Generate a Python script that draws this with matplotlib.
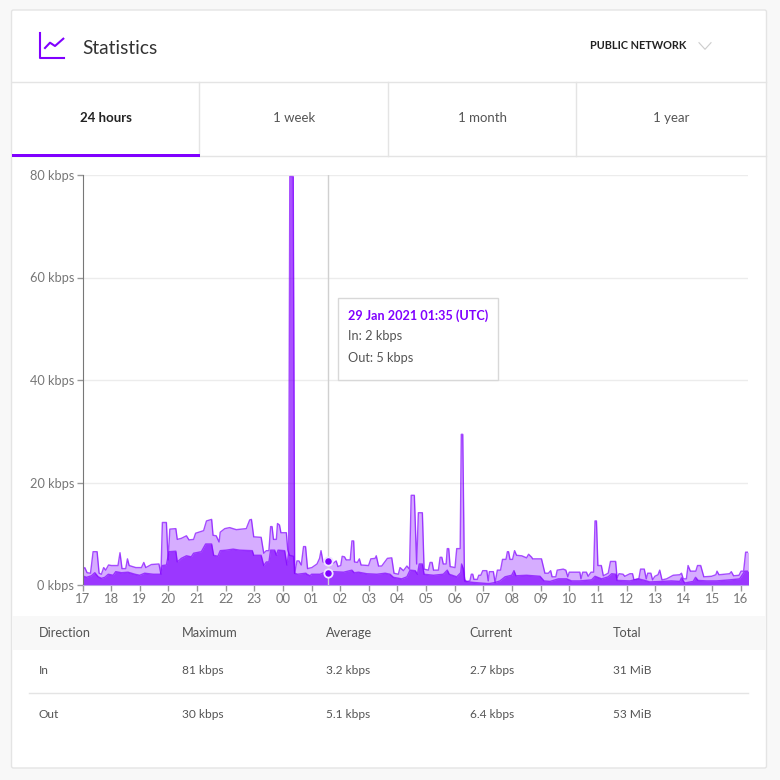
import matplotlib
matplotlib.use("Agg")
import matplotlib.pyplot as plt
from matplotlib.patches import Rectangle, FancyBboxPatch

plt.rcParams['font.family'] = ['Lato', 'DejaVu Sans']

# hours since 17:00
out_hours = [0, .08, .16, .28, .37, .51, .58, .66, .74, .81, .91, 1.01, 1.24, 1.31, 1.38, 1.51, 1.57, 1.63, 1.86, 2.06,
             2.14, 2.21, 2.41, 2.67, 2.74, 2.79, 2.93, 2.99, 3.05, 3.26, 3.31, 3.45, 3.63, 3.72, 3.88, 3.95, 4.23, 4.33, 4.51, 4.56,
             4.67, 4.77, 4.81, 4.97, 5.14, 5.37, 5.72, 5.84, 5.9, 5.98, 6.24, 6.33, 6.42, 6.51, 6.57, 6.62, 6.67, 6.77, 6.81, 6.88,
             6.93, 7.12, 7.17, 7.23, 7.37, 7.41, 7.49, 7.56, 7.64, 7.72, 7.79, 7.86, 8.01, 8.19, 8.28, 8.33, 8.40, 8.51, 8.77, 8.86,
             8.92, 9.02, 9.07, 9.15, 9.21, 9.35, 9.41, 9.47, 9.5, 9.6, 9.67, 9.73, 9.99, 10.07, 10.22, 10.26, 10.34, 10.45, 10.65, 10.8,
             10.88, 11.03, 11.09, 11.21, 11.33, 11.42, 11.48, 11.59, 11.67, 11.73, 11.87, 11.93, 12.08, 12.14, 12.21, 12.26, 12.43, 12.49, 12.55, 12.6,
             12.7, 12.74, 12.79, 12.84, 13.01, 13.07, 13.19, 13.23, 13.28, 13.34, 13.42, 13.53, 13.58, 13.63, 13.67, 13.79, 13.84, 13.91, 13.98, 14.12,
             14.17, 14.21, 14.35, 14.41, 14.49, 14.6, 14.67, 14.79, 14.84, 14.88, 14.93, 15.02, 15.09, 15.16, 15.34, 15.51, 15.58, 15.69, 15.72, 16.03,
             16.15, 16.27, 16.35, 16.4, 16.53, 16.58, 16.79, 16.88, 16.95, 17.0, 17.37, 17.41, 17.47, 17.6, 17.66, 17.76, 17.85, 17.9, 17.95, 18.0,
             18.12, 18.19, 18.36, 18.44, 18.62, 18.67, 18.74, 18.88, 18.94, 19.12, 19.21, 19.26, 19.43, 19.49, 19.62, 19.69, 19.74, 19.85, 19.91, 19.99,
             20.1, 20.16, 20.24, 20.4, 20.63, 20.86, 20.92, 20.98, 21.09, 21.15, 21.23, 21.42, 21.48, 21.59, 21.7, 21.97, 22.12, 22.16, 22.23, 22.6,
             22.66, 22.74, 22.93, 23.0, 23.09, 23.16, 23.26]
out_kbps = [2.9, 3.4, 2.4, 2.3, 6.5, 6.5, 2.3, 2.1, 3.4, 2.9, 3.9, 3.8, 3.8, 6.3, 3.2, 3.2, 5.1, 3.8, 3.4, 3.4,
            4.4, 3.4, 4.0, 4.1, 2.1, 12.2, 12.2, 4.9, 10.9, 11.0, 8.9, 9.1, 9.6, 8.8, 8.9, 10.1, 10.6, 12.5, 12.8, 9.7,
            9.6, 8.4, 10.3, 11.0, 11.2, 10.8, 11.0, 12.7, 12.8, 9.4, 9.3, 6.2, 6.7, 6.7, 11.4, 11.4, 8.9, 8.9, 12.0, 11.7,
            10.2, 10.2, 6.8, 5.8, 5.6, 2.3, 4.7, 4.7, 3.9, 7.5, 7.5, 3.2, 3.4, 4.1, 5.2, 6.7, 4.5, 4.2, 4.3, 4.7,
            3.6, 3.8, 5.6, 5.5, 4.9, 4.9, 8.6, 8.6, 4.5, 4.4, 5.1, 3.9, 3.8, 5.1, 5.2, 5.7, 3.7, 3.7, 5.2, 5.3,
            2.3, 2.1, 3.4, 2.8, 3.7, 3.1, 17.5, 17.5, 4.1, 14.1, 14.1, 3.1, 2.9, 4.4, 4.4, 2.9, 2.9, 5.4, 5.4, 4.1,
            4.1, 7.1, 7.1, 3.6, 3.4, 7.1, 7.1, 29.4, 29.4, 1.0, .7, .8, 2.1, 2.1, 1.1, 1.1, 1.9, 1.9, 2.8, 2.8,
            .8, 2.6, 2.6, .5, 2.9, 2.9, 5.0, 5.0, 6.5, 6.5, 5.0, 5.0, 6.7, 5.8, 5.7, 5.3, 6.0, 5.4, 5.1, 5.1,
            2.3, 2.3, 2.8, 1.6, 1.6, 2.9, 3.1, 2.9, 1.6, 2.5, 2.5, 1.2, 2.5, 2.5, 1.7, 2.5, 2.5, 12.5, 12.5, 3.8,
            3.8, 1.8, 2.3, 4.6, 4.6, 1.4, 2.2, 2.1, 1.7, 2.2, 2.2, 1.0, 1.2, 3.1, 3.1, 1.2, 2.3, 2.3, 1.0, 1.7,
            2.0, 2.9, 1.0, 1.2, 1.9, 2.0, 2.3, 1.2, 1.2, 3.8, 2.7, 2.7, 3.8, 3.8, 1.6, 1.7, 2.0, 2.7, 2.0, 2.2,
            2.6, 1.8, 1.9, 2.7, 2.7, 6.4, 6.4]

in_hours = [0, .14, .31, .43, .55, .66, .78, .9, 1.07, 1.16, 1.36, 1.59, 1.83, 2.0, 2.17, 2.47, 2.72, 2.79, 2.93, 3.02,
            3.26, 3.31, 3.45, 3.63, 3.8, 3.88, 4.15, 4.3, 4.51, 4.58, 4.73, 4.81, 5.02, 5.26, 5.49, 5.93, 5.98, 6.24, 6.33, 6.42,
            6.51, 6.57, 6.71, 6.77, 6.83, 7.06, 7.14, 7.2, 7.24, 7.36, 7.41, 7.51, 7.8, 7.84, 7.95, 8.0, 8.3, 8.42, 8.77, 9.12,
            9.41, 9.49, 9.64, 9.93, 10.28, 10.57, 10.74, 10.86, 11.15, 11.33, 11.44, 11.62, 11.7, 11.76, 11.87, 11.93, 12.26, 12.6, 12.74, 12.81,
            13.07, 13.21, 13.24, 13.3, 13.36, 13.65, 14.12, 14.23, 14.41, 14.58, 14.76, 14.99, 15.07, 15.14, 15.51, 15.98, 16.12, 16.33, 16.62, 16.91,
            17.08, 17.37, 17.78, 17.9, 18.13, 18.36, 18.48, 18.63, 18.67, 19.12, 19.41, 19.64, 19.81, 20.22, 20.57, 20.86, 20.92, 21.03, 21.33, 21.41,
            21.5, 21.79, 22.14, 22.6, 22.95, 23.13, 23.26]
in_kbps = [1.8, 1.5, 1.8, 2.4, 1.6, 1.3, 1.5, 2.1, 1.9, 2.6, 2.4, 2.5, 2.1, 1.9, 2.3, 2.1, 2.1, 3.8, 3.9, 6.5,
           6.6, 4.5, 5.2, 5.7, 5.5, 6.2, 6.5, 8.0, 8.0, 5.8, 5.6, 6.7, 6.8, 7.0, 6.8, 6.7, 5.8, 5.8, 3.8, 4.5,
           4.5, 6.8, 6.8, 5.8, 6.8, 6.7, 3.9, 6.2, 79.7, 79.7, 2.3, 2.1, 2.3, 2.1, 1.8, 2.1, 2.1, 2.4, 2.6, 2.5,
           2.9, 2.4, 2.5, 2.2, 2.1, 2.3, 2.1, 1.5, 1.2, 1.6, 2.9, 2.8, 2.1, 4.1, 4.1, 2.1, 1.9, 2.1, 2.9, 2.1,
           1.6, 2.4, 4.1, 3.2, .7, .5, .3, .3, .5, .8, 1.6, 1.9, 2.8, 1.8, 1.9, 1.7, .8, .7, 1.2, 1.2,
           .8, .8, 1.0, 1.7, 1.2, 1.6, 2.2, 2.1, .9, .8, 1.2, .9, .6, .7, .8, .7, 1.4, .4, .7, 1.5,
           .9, .8, .8, 1.0, 1.2, 2.7, 2.7]

hour_labels = ['17', '18', '19', '20', '21', '22', '23', '00', '01', '02', '03', '04',
               '05', '06', '07', '08', '09', '10', '11', '12', '13', '14', '15', '16']
kbps_ticks = [0, 20, 40, 60, 80]

hover_hour = 8.58
hover_in = 2.4
hover_out = 4.7

tabs = ['24 hours', '1 week', '1 month', '1 year']
table_head = ['Direction', 'Maximum', 'Average', 'Current', 'Total']
table_in = ['In', '81 kbps', '3.2 kbps', '2.7 kbps', '31 MiB']
table_out = ['Out', '30 kbps', '5.1 kbps', '6.4 kbps', '53 MiB']

PURPLE = '#8000ff'
LINE = '#e4e4e4'
TEXT = '#555555'

fig = plt.figure(figsize=(7.8, 7.8), dpi=100, facecolor='#f8f8f8')

# page furniture, drawn in pixel coordinates
bg = fig.add_axes([0, 0, 1, 1], zorder=0)
bg.set_xlim(0, 780)
bg.set_ylim(780, 0)
bg.axis('off')
bg.add_patch(FancyBboxPatch((11.5, 10), 755, 758, boxstyle='round,pad=0,rounding_size=2',
                            fc='white', ec=LINE, lw=1))
bg.plot([39.7, 39.7, 64.3], [33, 57.7, 57.7], color=PURPLE, lw=1.5)
bg.plot([45, 50, 55, 63.3], [48, 42.7, 46, 38.7], color=PURPLE, lw=1.5)
bg.text(82.5, 48, 'Statistics', fontsize=13.8, color='#333333', va='center')
bg.text(590.5, 45.5, 'PUBLIC NETWORK', fontsize=7.8, fontweight='bold', color='#222222', va='center')
bg.plot([699, 705, 711], [42.7, 49.3, 42.7], color='#cccccc', lw=0.8)

bg.plot([12, 766], [82, 82], color=LINE, lw=1)
bg.plot([12, 766], [156, 156], color=LINE, lw=1)
for tab_x in [199, 388, 576]:
    bg.plot([tab_x, tab_x], [82, 156], color=LINE, lw=1)
bg.add_patch(Rectangle((12, 154), 187.5, 3, fc=PURPLE, ec='none', zorder=3))
for name, tab_x in zip(tabs, [105.5, 294, 482.5, 671.5]):
    is_active = name == tabs[0]
    bg.text(tab_x, 117.5, name, ha='center', va='center', fontsize=9.5,
            fontweight='bold' if is_active else 'normal', color='#222222' if is_active else TEXT)

bg.add_patch(Rectangle((12, 616), 754, 34, fc='#f8f8f8', ec='none'))
bg.plot([29, 748], [693, 693], color=LINE, lw=1)
for col_x, head, in_val, out_val in zip([38.5, 182, 325.5, 469.5, 613], table_head, table_in, table_out):
    bg.text(col_x, 633, head, fontsize=9.2, color=TEXT, va='center')
    bg.text(col_x, 671, in_val, fontsize=8.6, color=TEXT, va='center')
    bg.text(col_x, 715, out_val, fontsize=8.6, color=TEXT, va='center')

# the chart itself
ax = fig.add_axes([82.5 / 780, 1 - 585 / 780, 666 / 780, 410 / 780], zorder=2)
ax.patch.set_alpha(0)
ax.fill_between(out_hours, out_kbps, color=PURPLE, alpha=0.32, lw=0)
ax.plot(out_hours, out_kbps, color=PURPLE, lw=1, alpha=0.7)
ax.fill_between(in_hours, in_kbps, color=PURPLE, alpha=0.68, lw=0)
ax.plot(in_hours, in_kbps, color=PURPLE, lw=1, alpha=0.7)

ax.set_xlim(0, 23.26)
ax.set_ylim(0, 80)
ax.set_xticks(range(len(hour_labels)))
ax.set_xticklabels(hour_labels)
ax.set_yticks(kbps_ticks)
ax.set_yticklabels([f'{v} kbps' for v in kbps_ticks])
ax.tick_params(axis='x', length=4, width=1, color='#999999', labelcolor='#777777', labelsize=9.4, pad=2)
ax.tick_params(axis='y', length=4, width=1, color='#999999', labelcolor='#777777', labelsize=9.2, pad=2)
for side in ['top', 'right']:
    ax.spines[side].set_visible(False)
ax.spines['left'].set_color('#777777')
ax.spines['bottom'].set_color('#b9a0e8')
ax.grid(axis='y', color='#ececec', lw=1)
ax.set_axisbelow(True)

ax.axvline(hover_hour, color='#d0d0d0', lw=1, zorder=4)
ax.plot([hover_hour, hover_hour], [hover_out, hover_in], ls='none', marker='o', ms=6,
        mfc=PURPLE, mec='#f0e6ff', mew=1.3, zorder=5, clip_on=False)

# tooltip on top of everything
top = fig.add_axes([0, 0, 1, 1], zorder=5)
top.set_xlim(0, 780)
top.set_ylim(780, 0)
top.axis('off')
top.add_patch(Rectangle((337.5, 298), 160, 82, fc='white', ec='#d8d8d8', lw=1))
top.text(347.5, 315.5, '29 Jan 2021 01:35 (UTC)', fontsize=9.1, fontweight='bold', color=PURPLE, va='center')
top.text(347.5, 336, 'In: 2 kbps', fontsize=9.2, color=TEXT, va='center')
top.text(347.5, 358.5, 'Out: 5 kbps', fontsize=9.2, color=TEXT, va='center')

fig.savefig('out.png', dpi=100)
